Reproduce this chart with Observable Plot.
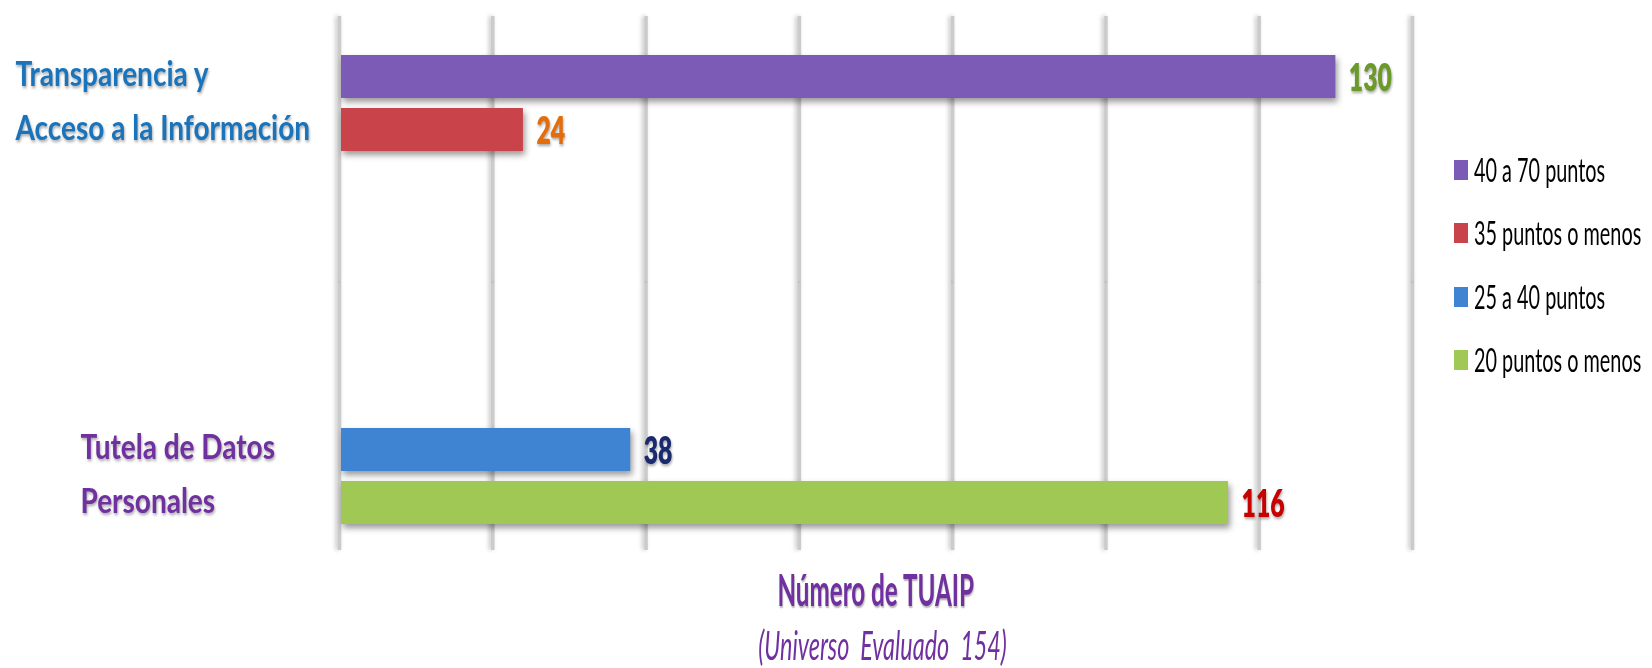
<!DOCTYPE html>
<html>
<head>
<meta charset="utf-8">
<script src="https://cdn.jsdelivr.net/npm/d3@7"></script>
<script src="https://cdn.jsdelivr.net/npm/@observablehq/plot@0.6"></script>
<style>
  html, body { margin: 0; padding: 0; background: #ffffff; overflow: hidden; }
  #wrap { position: relative; width: 1652px; height: 668px; font-family: Lato, "Open Sans", sans-serif; }
  #legend { position: absolute; left: 1454px; top: 138px; }
  .item { display: flex; align-items: center; height: 63.5px; }
  .sw { width: 14px; height: 20px; margin-right: 6px; flex: none; }
  .lt { display: inline-block; font-size: 32px; line-height: 1; font-weight: 400; color: #000;
        transform: scaleX(0.62); transform-origin: left center; white-space: nowrap; }
  #titles { position: absolute; left: 339px; width: 1073px; top: 561px; text-align: center; color: #7030a0; }
  .tl { height: 56px; line-height: 56px; white-space: pre; }
  .tl span { display: inline-block; transform-origin: center center; }
  #t1 span { font-size: 44px; font-weight: 700; transform: scaleX(0.55); text-shadow: 1px 2px 2px rgba(0,0,0,0.3); }
  #t2 { padding-left: 14px; }
  #t2 span { font-size: 40px; font-weight: 400; font-style: italic; transform: scaleX(0.585); }
  g[aria-label="bar"] rect { filter: drop-shadow(2px 4px 3px rgba(0,0,0,0.4)); }
  g[aria-label="rule"] line { filter: drop-shadow(-2px 0px 2px rgba(0,0,0,0.25)); }
  text[aria-label="value-labels"], text[aria-label="cat-labels"] {
    filter: drop-shadow(1px 2px 1.5px rgba(0,0,0,0.35));
  }
</style>
</head>
<body>
<div id="wrap">
  <div id="chart"></div>
  <div id="legend"></div>
  <div id="titles"><div class="tl" id="t1"></div><div class="tl" id="t2"></div></div>
</div>
<script>
// ---- data ----
const categories = ["Transparencia y Acceso a la Información", "Tutela de Datos Personales"];
const categoryLines = [["Transparencia y", "Acceso a la Información"], ["Tutela de Datos", "Personales"]];
const series = ["40 a 70 puntos", "35 puntos o menos", "25 a 40 puntos", "20 puntos o menos"];
const seriesCategory = [0, 0, 1, 1];
const values = [130, 24, 38, 116];
const xTicks = [0, 20, 40, 60, 80, 100, 120, 140];
const axisTitle = "Número de TUAIP";
const axisSubtitle = "(Universo  Evaluado  154)";

// ---- styles ----
const barColors = ["#7b5bb5", "#c9444a", "#3f84d2", "#a0c855"];
const valueColors = ["#6b9a2a", "#e46c0a", "#1a2a6e", "#c80000"];
const categoryColors = ["#1a74bb", "#7030a0"];

const rows = series.map((s, i) => ({
  series: s,
  category: categories[seriesCategory[i]],
  value: values[i],
  color: valueColors[i]
}));
const catLabels = categories.map((c, i) => ({
  category: c,
  text: categoryLines[i].join("\n"),
  first: rows.find(r => r.category === c).series
}));

const labelFont = 35;
const step = 53.46;

const catMark = (idx, dx) => Plot.text(catLabels.filter((d, i) => i === idx), {
  ariaLabel: () => "cat-labels",
  fy: "category", y: "first", text: "text", frameAnchor: "left",
  textAnchor: "start", lineAnchor: "middle", lineHeight: step / labelFont,
  dx, dy: step / 2 - 8,
  fill: categoryColors[idx], fontFamily: "Lato", fontWeight: 700, fontSize: labelFont
});

const plot = Plot.plot({
  width: 1652,
  height: 560,
  marginLeft: 339,
  marginRight: 240,
  marginTop: 15,
  marginBottom: 10,
  style: {background: "white", overflow: "visible"},
  x: {domain: [0, 140], axis: null},
  y: {domain: series, axis: null, paddingInner: 0.196, paddingOuter: 0.6, align: 0.59},
  fy: {domain: categories, axis: null, padding: 0},
  color: {domain: series, range: barColors},
  marks: [
    Plot.ruleX(xTicks, {stroke: "#cbcbcb", strokeWidth: 3.5}),
    Plot.barX(rows, {x: "value", y: "series", fy: "category", fill: "series", insetLeft: 2}),
    Plot.text(rows, {
      ariaLabel: () => "value-labels",
      x: "value", y: "series", fy: "category", text: d => String(d.value),
      fill: d => d.color, textAnchor: "start", dx: 13, dy: 2,
      fontFamily: "Lato", fontWeight: 800, fontSize: 37
    }),
    catMark(0, -324),
    catMark(1, -259)
  ]
});

// condense the text horizontally around its anchor (keeps Plot's own placement)
function squeeze(svg, label, sx, sy) {
  d3.select(svg).selectAll(`text[aria-label="${label}"]`).each(function () {
    const tr = this.getAttribute("transform") || "";
    this.setAttribute("transform", `${tr} scale(${sx},${sy})`);
  });
}
squeeze(plot, "value-labels", 0.67, 1);
squeeze(plot, "cat-labels", 0.8, 1);

document.getElementById("chart").appendChild(plot);

// legend
const legend = d3.select("#legend");
series.forEach((s, i) => {
  const it = legend.append("div").attr("class", "item");
  it.append("div").attr("class", "sw").style("background", barColors[i]);
  it.append("span").attr("class", "lt").text(s);
});

// titles
d3.select("#t1").append("span").text(axisTitle);
d3.select("#t2").append("span").text(axisSubtitle);
</script>
</body>
</html>
